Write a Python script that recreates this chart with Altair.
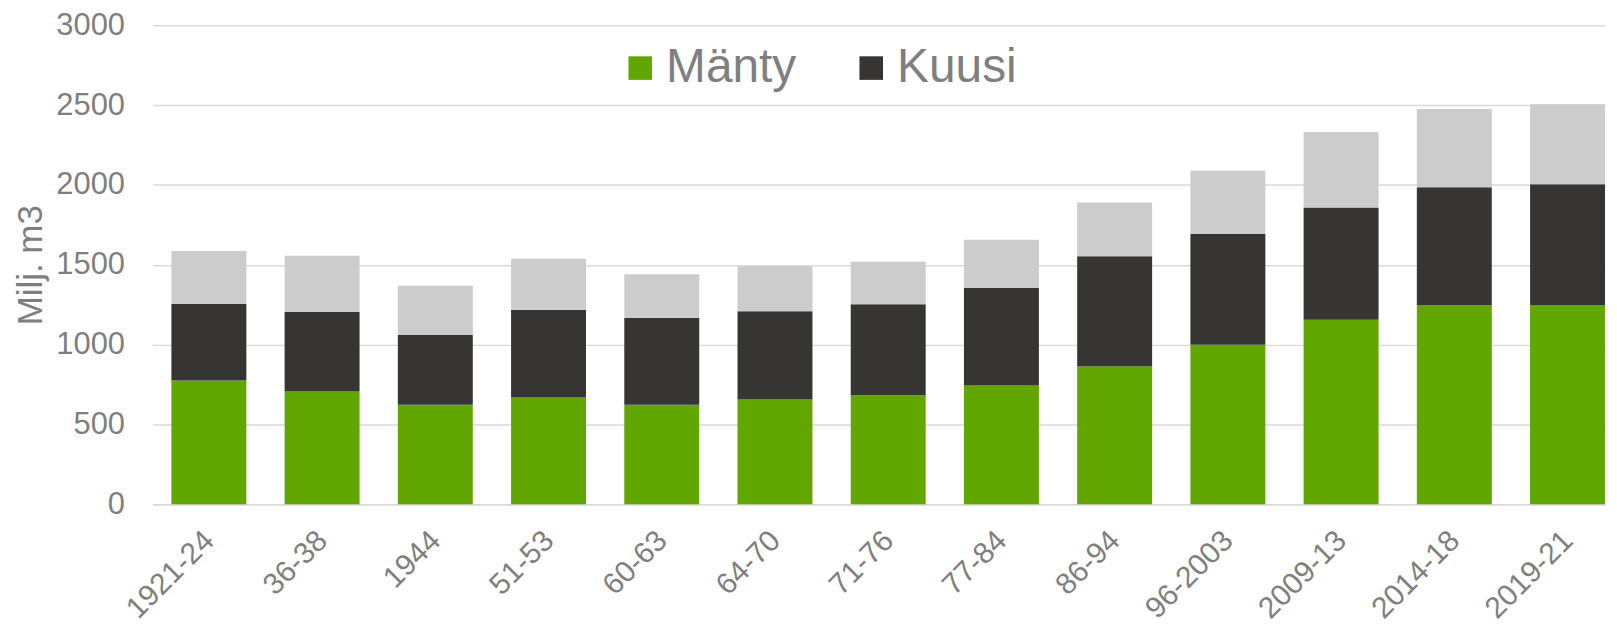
import altair as alt
import pandas as pd

categories = ["1921-24", "36-38", "1944", "51-53", "60-63", "64-70", "71-76",
              "77-84", "86-94", "96-2003", "2009-13", "2014-18", "2019-21"]
manty = [774, 706, 623, 669, 623, 656, 683, 743, 862, 999, 1155, 1246, 1248]
kuusi = [480, 498, 438, 548, 544, 553, 569, 611, 691, 693, 704, 739, 756]
lehtipuu = [332, 353, 307, 320, 274, 282, 266, 303, 337, 397, 473, 490, 502]

series = ["Mänty", "Kuusi", "Lehtipuu"]
colors = ["#62A600", "#363534", "#CCCCCC"]

rows = []
for i, c in enumerate(categories):
    for k, (name, vals) in enumerate(zip(series, [manty, kuusi, lehtipuu])):
        rows.append({"jakso": c, "laji": name, "arvo": vals[i], "ord": k})
df = pd.DataFrame(rows)

FONT = "Liberation Sans"
TXT = "#7F7F7F"

chart = alt.Chart(df).mark_bar().encode(
    x=alt.X("jakso:N", sort=categories, title=None,
            scale=alt.Scale(paddingInner=0.338, paddingOuter=0.084, align=1),
            axis=alt.Axis(labelAngle=-45, labelFontSize=30, labelColor=TXT, labelFont=FONT,
                          ticks=False, tickSize=0, labelPadding=21, labelOffset=-10,
                          domainColor="#D9D9D9", domainWidth=1.5, grid=False)),
    y=alt.Y("arvo:Q", stack="zero", title="Milj. m3",
            scale=alt.Scale(domain=[0, 3000], nice=False),
            axis=alt.Axis(values=[0, 500, 1000, 1500, 2000, 2500, 3000], format="d",
                          labelFontSize=31, labelColor=TXT, labelFont=FONT, ticks=False,
                          tickSize=0, labelPadding=28, domain=False, gridColor="#D9D9D9",
                          gridWidth=1.5, titleFontSize=35, titleColor=TXT, titleFont=FONT,
                          titleFontWeight="normal", titlePadding=7)),
    color=alt.Color("laji:N", scale=alt.Scale(domain=series, range=colors),
                    legend=alt.Legend(values=["Mänty", "Kuusi"], title=None, orient="none",
                                      direction="horizontal", legendX=466, legendY=19,
                                      symbolType="square", symbolSize=560, symbolStrokeWidth=0,
                                      labelFontSize=48, labelColor=TXT, labelFont=FONT,
                                      labelOffset=2, columnPadding=51, padding=0)),
    order=alt.Order("ord:Q", sort="ascending"),
).properties(
    width=1459, height=481,
    autosize=alt.AutoSizeParams(type="none"),
    padding={"left": 145, "top": 16, "right": 4, "bottom": 120},
).configure_view(stroke=None)

chart.save("out.html", embed_options={"renderer": "svg", "actions": False})
